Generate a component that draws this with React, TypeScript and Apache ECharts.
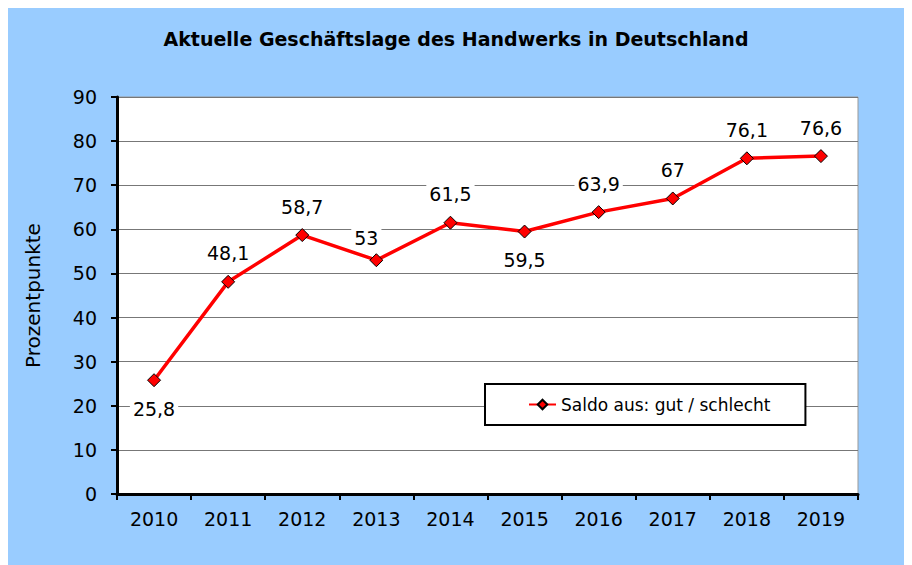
import React, { useEffect, useRef } from "react";
import * as echarts from "echarts";

const title = "Aktuelle Geschäftslage des Handwerks in Deutschland";
const years = ["2010", "2011", "2012", "2013", "2014", "2015", "2016", "2017", "2018", "2019"];
const saldo = [25.8, 48.1, 58.7, 53, 61.5, 59.5, 63.9, 67, 76.1, 76.6];
const labelsBelow = ["2010", "2015"];
const seriesName = "Saldo aus: gut / schlecht";
const yAxisName = "Prozentpunkte";

const FONT = "'DejaVu Sans', sans-serif";

export default function App() {
  const ref = useRef<HTMLDivElement>(null);
  useEffect(() => {
    if (!ref.current) return;
    const chart = echarts.init(ref.current, undefined, { renderer: "svg" });
    const data = saldo.map((v, i) => {
      const below = labelsBelow.includes(years[i]);
      const item: any = { value: v };
      item.label = {
        position: below ? "bottom" : "top",
        offset: years[i] === "2013" ? [-10, 6] : [0, 0],
      };
      return item;
    });
    chart.setOption({
      animation: false,
      backgroundColor: "#99CCFF",
      textStyle: { fontFamily: FONT },
      title: {
        text: title,
        left: "center",
        top: 16,
        textStyle: { fontFamily: FONT, fontSize: 19, fontWeight: "bold", color: "#000" },
      },
      grid: {
        left: 109,
        top: 89,
        right: 46,
        bottom: 71,
        show: true,
        backgroundColor: "#fff",
        borderColor: "#999",
        borderWidth: 1,
      },
      legend: {
        data: [seriesName],
        left: 477,
        top: 376,
        backgroundColor: "#fff",
        borderColor: "#000",
        borderWidth: 2,
        borderRadius: 0,
        padding: [12, 35, 12, 43],
        itemWidth: 27,
        itemHeight: 12,
        itemGap: 5,
        textStyle: { fontFamily: FONT, fontSize: 17, color: "#000" },
      },
      xAxis: {
        type: "category",
        data: years,
        boundaryGap: true,
        axisLine: { lineStyle: { color: "#000", width: 3 } },
        axisTick: { show: true, length: 6, lineStyle: { color: "#000", width: 2 } },
        axisLabel: { fontFamily: FONT, fontSize: 19, color: "#000", margin: 15 },
        splitLine: { show: false },
      },
      yAxis: {
        type: "value",
        min: 0,
        max: 90,
        interval: 10,
        name: yAxisName,
        nameLocation: "middle",
        nameGap: 74,
        nameTextStyle: { fontFamily: FONT, fontSize: 20, color: "#000" },
        axisLine: { show: true, lineStyle: { color: "#000", width: 3 } },
        axisTick: { show: true, length: 6, lineStyle: { color: "#000", width: 2 } },
        axisLabel: { fontFamily: FONT, fontSize: 19, color: "#000", margin: 20 },
        splitLine: { show: true, lineStyle: { color: "#777", width: 1 } },
      },
      series: [
        {
          name: seriesName,
          type: "line",
          data,
          symbol: "diamond",
          symbolSize: 13,
          lineStyle: { color: "#FF0000", width: 3.5 },
          itemStyle: { color: "#FF0000", borderColor: "#000", borderWidth: 1 },
          label: {
            show: true,
            distance: 11,
            fontFamily: FONT,
            fontSize: 19,
            color: "#000",
            backgroundColor: "#fff",
            padding: [1, 3],
            formatter: (p: any) => String(p.value).replace(".", ","),
          },
        },
      ],
    });
    return () => chart.dispose();
  }, []);
  return <div ref={ref} style={{ width: 896, height: 557 }} />;
}
